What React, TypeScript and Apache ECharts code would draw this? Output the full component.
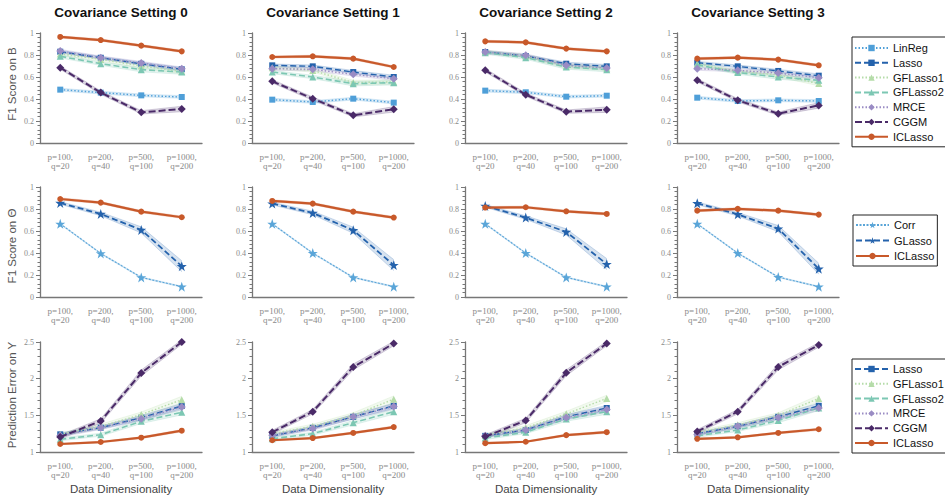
import React, { useEffect, useRef } from 'react';
import * as echarts from 'echarts';

// ---------- data ----------
const categories = ['p=100,\nq=20', 'p=200,\nq=40', 'p=500,\nq=100', 'p=1000,\nq=200'];
const settingTitles = ['Covariance Setting 0', 'Covariance Setting 1', 'Covariance Setting 2', 'Covariance Setting 3'];
const rowNames = ['F1 Score on B', 'F1 Score on \u0398', 'Prediction Error on Y'];
const xName = 'Data Dimensionality';

// Row 1: F1 score on B (one array per covariance setting)
const B_LinReg = [[0.485, 0.458, 0.433, 0.418], [0.394, 0.373, 0.403, 0.367], [0.476, 0.461, 0.421, 0.43], [0.412, 0.382, 0.388, 0.382]];
const B_Lasso = [[0.83, 0.775, 0.72, 0.67], [0.706, 0.697, 0.645, 0.6], [0.827, 0.791, 0.721, 0.697], [0.73, 0.697, 0.655, 0.612]];
const B_GFLasso1 = [[0.81, 0.76, 0.70, 0.65], [0.685, 0.66, 0.55, 0.555], [0.83, 0.79, 0.70, 0.68], [0.72, 0.65, 0.62, 0.54]];
const B_GFLasso2 = [[0.788, 0.721, 0.667, 0.645], [0.645, 0.6, 0.539, 0.548], [0.821, 0.776, 0.691, 0.667], [0.71, 0.64, 0.60, 0.57]];
const B_MRCE = [[0.836, 0.776, 0.727, 0.676], [0.676, 0.67, 0.624, 0.585], [0.827, 0.797, 0.706, 0.682], [0.676, 0.661, 0.636, 0.594]];
const B_CGGM = [[0.685, 0.458, 0.279, 0.309], [0.561, 0.403, 0.252, 0.306], [0.661, 0.439, 0.285, 0.303], [0.57, 0.388, 0.267, 0.342]];
const B_ICLasso = [[0.964, 0.936, 0.885, 0.833], [0.782, 0.788, 0.767, 0.691], [0.924, 0.915, 0.858, 0.833], [0.767, 0.776, 0.758, 0.706]];

// Row 2: F1 score on Theta
const T_Corr = [[0.665, 0.396, 0.178, 0.094], [0.665, 0.399, 0.178, 0.094], [0.665, 0.399, 0.178, 0.094], [0.665, 0.399, 0.181, 0.094]];
const T_GLasso = [[0.855, 0.755, 0.61, 0.28], [0.849, 0.764, 0.607, 0.29], [0.828, 0.722, 0.592, 0.299], [0.852, 0.752, 0.622, 0.257]];
const T_ICLasso = [[0.891, 0.858, 0.776, 0.725], [0.873, 0.849, 0.776, 0.722], [0.813, 0.816, 0.779, 0.755], [0.785, 0.801, 0.785, 0.749]];

// Row 3: prediction error on Y
const Y_Lasso = [[1.241, 1.332, 1.468, 1.627], [1.22, 1.33, 1.48, 1.63], [1.22, 1.30, 1.48, 1.60], [1.25, 1.35, 1.48, 1.63]];
const Y_GFLasso1 = [[1.24, 1.35, 1.51, 1.714], [1.25, 1.35, 1.50, 1.72], [1.23, 1.33, 1.52, 1.73], [1.27, 1.37, 1.50, 1.73]];
const Y_GFLasso2 = [[1.173, 1.236, 1.418, 1.541], [1.18, 1.25, 1.40, 1.55], [1.19, 1.27, 1.45, 1.55], [1.22, 1.30, 1.43, 1.60]];
const Y_MRCE = [[1.223, 1.332, 1.455, 1.614], [1.23, 1.32, 1.48, 1.62], [1.22, 1.30, 1.47, 1.58], [1.24, 1.35, 1.47, 1.60]];
const Y_CGGM = [[1.205, 1.423, 2.077, 2.5], [1.27, 1.55, 2.16, 2.48], [1.21, 1.43, 2.08, 2.48], [1.28, 1.55, 2.16, 2.46]];
const Y_ICLasso = [[1.109, 1.136, 1.195, 1.291], [1.16, 1.19, 1.26, 1.34], [1.12, 1.14, 1.23, 1.27], [1.18, 1.20, 1.26, 1.31]];

// confidence band half-widths (estimated)
const bandB_LinReg = [0.012, 0.012, 0.012, 0.012];
const bandB_Lasso = [0.012, 0.012, 0.014, 0.016];
const bandB_GFLasso1 = [0.015, 0.015, 0.02, 0.02];
const bandB_GFLasso2 = [0.015, 0.015, 0.02, 0.02];
const bandB_MRCE = [0.015, 0.015, 0.015, 0.015];
const bandB_CGGM = [0.015, 0.015, 0.015, 0.025];
const bandB_ICLasso = [0.01, 0.01, 0.01, 0.01];
const bandT_Corr = [0.005, 0.005, 0.005, 0.005];
const bandT_GLasso = [0.012, 0.016, 0.028, 0.05];
const bandT_ICLasso = [0.01, 0.01, 0.01, 0.01];
const bandY_Lasso = [0.02, 0.02, 0.03, 0.035];
const bandY_GFLasso1 = [0.02, 0.03, 0.035, 0.045];
const bandY_GFLasso2 = [0.02, 0.02, 0.03, 0.035];
const bandY_MRCE = [0.02, 0.025, 0.03, 0.035];
const bandY_CGGM = [0.025, 0.03, 0.04, 0.03];
const bandY_ICLasso = [0.01, 0.01, 0.012, 0.015];

// ---------- styles ----------
const STAR = 'path://M50,2 L61.8,36.2 L97.6,36.2 L68.8,57.6 L79.4,92 L50,71 L20.6,92 L31.2,57.6 L2.4,36.2 L38.2,36.2 Z';
const DOT = [1.5, 2];
const DASH = [6, 3];
const STYLE: Record<string, any> = {
  LinReg: { color: '#4f9fd8', symbol: 'rect', size: 6, width: 1.4, dash: DOT },
  Lasso: { color: '#2462ac', symbol: 'rect', size: 6, width: 1.4, dash: DASH },
  GFLasso1: { color: '#b5dca9', symbol: 'triangle', size: 7, width: 1.4, dash: DOT },
  GFLasso2: { color: '#7cc7b3', symbol: 'triangle', size: 7, width: 1.6, dash: DASH },
  MRCE: { color: '#9a8cc4', symbol: 'diamond', size: 8, width: 1.4, dash: DOT },
  CGGM: { color: '#4a2a68', symbol: 'diamond', size: 8, width: 2, dash: [7, 3] },
  ICLasso: { color: '#c8592a', symbol: 'circle', size: 6, width: 2.2, dash: 'solid' },
  Corr: { color: '#5aa5d8', symbol: STAR, size: 10, width: 1.1, dash: [2, 1.5] },
  GLasso: { color: '#2462ac', symbol: STAR, size: 10, width: 1.8, dash: DASH },
};

const ROWS = [
  {
    methods: ['LinReg', 'Lasso', 'GFLasso1', 'GFLasso2', 'MRCE', 'CGGM', 'ICLasso'],
    values: [B_LinReg, B_Lasso, B_GFLasso1, B_GFLasso2, B_MRCE, B_CGGM, B_ICLasso],
    bands: [bandB_LinReg, bandB_Lasso, bandB_GFLasso1, bandB_GFLasso2, bandB_MRCE, bandB_CGGM, bandB_ICLasso],
    min: 0, max: 1, interval: 0.2,
  },
  {
    methods: ['Corr', 'GLasso', 'ICLasso'],
    values: [T_Corr, T_GLasso, T_ICLasso],
    bands: [bandT_Corr, bandT_GLasso, bandT_ICLasso],
    min: 0, max: 1, interval: 0.2,
  },
  {
    methods: ['Lasso', 'GFLasso1', 'GFLasso2', 'MRCE', 'CGGM', 'ICLasso'],
    values: [Y_Lasso, Y_GFLasso1, Y_GFLasso2, Y_MRCE, Y_CGGM, Y_ICLasso],
    bands: [bandY_Lasso, bandY_GFLasso1, bandY_GFLasso2, bandY_MRCE, bandY_CGGM, bandY_ICLasso],
    min: 1, max: 2.5, interval: 0.5,
  },
];

const GRID_LEFT = [40, 252, 465, 677];
const GRID_TOP = [33, 187, 342];
const GRID_W = 162;
const GRID_H = 110;
const SANS = 'Liberation Sans, Arial, sans-serif';
const SERIF = 'Liberation Serif, Times New Roman, serif';
const AXIS_COLOR = '#777';
const LABEL_COLOR = '#8a8a8a';

function buildOption() {
  const grid: any[] = [];
  const xAxis: any[] = [];
  const yAxis: any[] = [];
  const series: any[] = [];
  ROWS.forEach((row, r) => {
    for (let c = 0; c < 4; c++) {
      const idx = r * 4 + c;
      grid.push({ left: GRID_LEFT[c], top: GRID_TOP[r], width: GRID_W, height: GRID_H, containLabel: false });
      xAxis.push({
        type: 'category', gridIndex: idx, data: categories, boundaryGap: true,
        axisLine: { lineStyle: { color: AXIS_COLOR, width: 1.3 } },
        axisTick: { alignWithLabel: true, length: 4, lineStyle: { color: AXIS_COLOR } },
        axisLabel: { fontFamily: SERIF, fontSize: 9, color: LABEL_COLOR, lineHeight: 9.5, margin: 9, interval: 0 },
        splitLine: { show: false },
      });
      yAxis.push({
        type: 'value', gridIndex: idx, min: row.min, max: row.max, interval: row.interval,
        axisLine: { show: true, lineStyle: { color: AXIS_COLOR, width: 1.3 } },
        axisTick: { show: true, length: 4, lineStyle: { color: AXIS_COLOR } },
        minorTick: { show: true, splitNumber: 5, length: 2.5, lineStyle: { color: AXIS_COLOR } },
        axisLabel: { fontFamily: SERIF, fontSize: 8, color: LABEL_COLOR, margin: 6 },
        splitLine: { show: false },
        minorSplitLine: { show: false },
      });
      row.methods.forEach((m, k) => {
        const st = STYLE[m];
        const vals: number[] = row.values[k][c];
        const band: number[] = row.bands[k];
        const stack = `band-${idx}-${m}`;
        series.push({
          type: 'line', name: `${m}-lo`, xAxisIndex: idx, yAxisIndex: idx, stack,
          data: vals.map((v, i) => v - band[i]), symbol: 'none', silent: true,
          lineStyle: { color: st.color, width: 0.6, opacity: 0.35 }, z: 1,
        });
        series.push({
          type: 'line', name: `${m}-hi`, xAxisIndex: idx, yAxisIndex: idx, stack,
          data: band.map((e) => 2 * e), symbol: 'none', silent: true,
          lineStyle: { color: st.color, width: 0.6, opacity: 0.35 },
          areaStyle: { color: st.color, opacity: 0.18 }, z: 1,
        });
      });
      row.methods.forEach((m, k) => {
        const st = STYLE[m];
        series.push({
          type: 'line', name: m, xAxisIndex: idx, yAxisIndex: idx,
          data: row.values[k][c], symbol: st.symbol, symbolSize: st.size,
          showAllSymbol: true,
          lineStyle: { color: st.color, width: st.width, type: st.dash },
          itemStyle: { color: st.color },
          z: 3 + k,
        });
      });
    }
  });

  const graphic: any[] = [];
  settingTitles.forEach((t, c) => {
    graphic.push({
      type: 'text', x: GRID_LEFT[c] + GRID_W / 2, y: 12,
      style: { text: t, fontFamily: SANS, fontSize: 13.5, fontWeight: 'bold', fill: '#111', align: 'center', verticalAlign: 'middle' },
    });
    graphic.push({
      type: 'text', x: GRID_LEFT[c] + GRID_W / 2, y: 489,
      style: { text: xName, fontFamily: SANS, fontSize: 11.5, fill: '#444', align: 'center', verticalAlign: 'middle' },
    });
  });
  const nameY = [84, 246, 395];
  rowNames.forEach((n, r) => {
    graphic.push({
      type: 'text', x: 12, y: nameY[r], rotation: Math.PI / 2,
      style: { text: n, fontFamily: SANS, fontSize: 11.5, fill: '#555', align: 'center', verticalAlign: 'middle' },
    });
  });

  const legendBase = {
    orient: 'vertical', itemWidth: 33, itemHeight: 8, selectedMode: false,
    borderColor: '#222', borderWidth: 1, backgroundColor: '#fff', borderRadius: 0,
    textStyle: { fontFamily: SANS, fontSize: 11, lineHeight: 12, color: '#111' },
  };
  const legend = [
    { ...legendBase, data: ROWS[0].methods, left: 852, top: 37, itemGap: 2.8, padding: [5, 3, 4, 2] },
    { ...legendBase, data: ROWS[1].methods, left: 853, top: 215, itemGap: 3.5, padding: [4, 3, 4, 2] },
    { ...legendBase, data: ROWS[2].methods, left: 852, top: 359, itemGap: 2.8, padding: [4, 3, 4, 2] },
  ];

  return { animation: false, backgroundColor: '#fff', grid, xAxis, yAxis, series, graphic, legend };
}

export default function App() {
  const ref = useRef<HTMLDivElement>(null);
  useEffect(() => {
    if (!ref.current) return;
    const chart = echarts.init(ref.current, undefined, { renderer: 'svg' });
    chart.setOption(buildOption() as any);
    return () => chart.dispose();
  }, []);
  return <div ref={ref} style={{ position: 'absolute', left: 0, top: 0, width: 945, height: 501 }} />;
}
